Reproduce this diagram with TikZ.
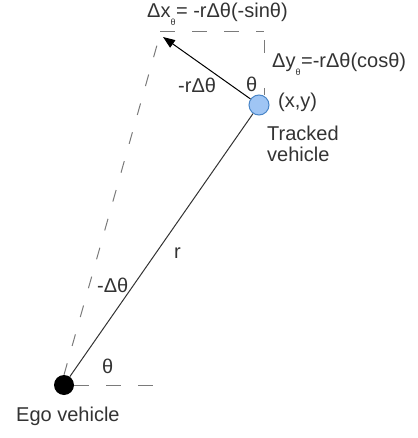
\documentclass[tikz,border=0pt]{standalone}
\usepackage{fontspec}
\setmainfont{Liberation Sans}
\usetikzlibrary{arrows.meta}
\definecolor{txt}{HTML}{333333}
\definecolor{dsh}{HTML}{7A7A7A}
\definecolor{bfill}{HTML}{9FC5F4}
\definecolor{bdraw}{HTML}{4A86C8}
\newcommand{\subth}{\raisebox{-8pt}{\fontsize{9}{9}\selectfont θ}\kern0.5pt}
\tikzset{
  lbl/.style={anchor=base west, inner sep=0pt, text=txt, font=\fontsize{20}{20}\selectfont},
  dsline/.style={draw=dsh, line width=1pt, dash pattern=on 15pt off 17pt},
  veh/.style={circle, minimum size=20pt, inner sep=0pt}
}
\begin{document}
\begin{tikzpicture}[x=1pt,y=-1pt]
\useasboundingbox (0,0) rectangle (417,438);
% vehicles
\node[veh, fill=black] (ego) at (64,385) {};
\node[veh, fill=bfill, draw=bdraw, line width=1pt] (trk) at (259,105) {};
% coordinates
\coordinate (tip) at (163,37);
\coordinate (dtop) at (159,38);
\coordinate (c1) at (160,32);
\coordinate (c2) at (264,32);
\coordinate (c3) at (264,95);
\coordinate (hend) at (158,385);
% lines
\draw[txt, line width=1pt] (ego) -- (trk);
\draw[black, line width=1pt, -{Triangle[length=12pt,width=9pt]}] (trk) -- (tip);
\draw[dsline, dash pattern=on 12pt off 18pt] (ego.north) -- (dtop);
\draw[dsline] (c1) -- (c2);
\draw[dsline, dash pattern=on 0pt off 8pt on 13pt off 27pt] (c2) -- (c3);
\draw[dsline] (ego.east) -- (hend);
% labels
\node[lbl] (dx) at (147,18) {Δx\subth= -rΔθ(-sinθ)};
\node[lbl] (dy) at (272,68) {Δy\subth=-rΔθ(cosθ)};
\node[lbl] (rdt) at (178,93) {-rΔθ};
\node[lbl] (th1) at (246,92) {θ};
\node[lbl] (xy) at (278,108) {(x,y)};
\node[lbl] (tv1) at (267,141) {Tracked};
\node[lbl] (tv2) at (267,162) {vehicle};
\node[lbl] (r) at (174,258) {r};
\node[lbl] (mdt) at (97,292) {-Δθ};
\node[lbl] (th2) at (102,373) {θ};
\node[lbl] (egol) at (16,421) {Ego vehicle};
\end{tikzpicture}
\end{document}
